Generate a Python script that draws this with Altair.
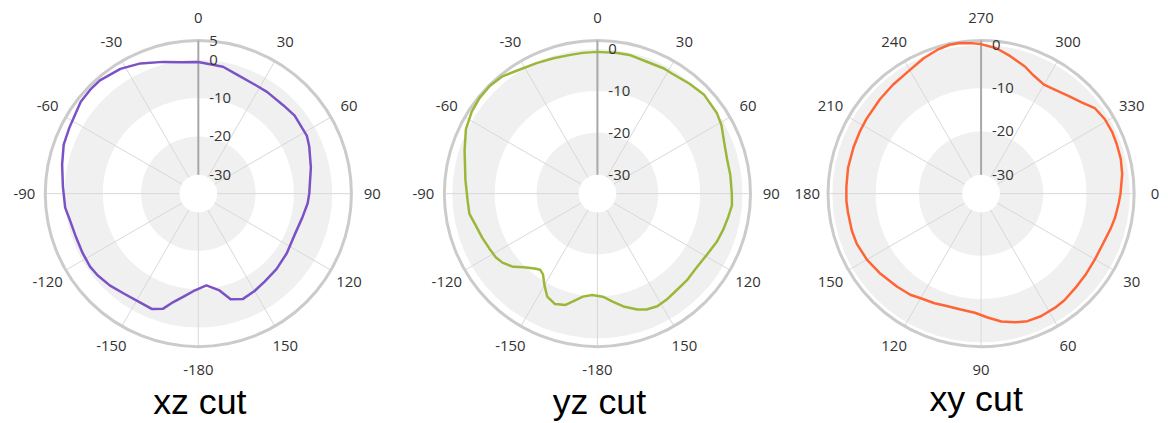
import math
import altair as alt
import pandas as pd

# ---------------- data ----------------
xz_angle = [0, 11, 18, 27, 34, 44, 51, 62, 67, 77, 90, 95, 103, 112, 124, 134, 143, 150, 157, 163,
            168, 175, -178, -173, -167, -163, -158, -152, -143, -136, -129, -124, -117, -109, -102, -96,
            -87, -78, -70, -63, -58, -52, -46, -41, -32, -24, -15, -7]
xz_gain = [-0.6, -1.2, -2.3, -2.9, -2.9, -2.95, -2.6, -2.85, -3.5, -4.8, -6.0, -6.3, -7.1, -7.6, -7.1, -6.6,
           -6.2, -5.6, -5.1, -6.1, -9.2, -10.9, -9.7, -8.2, -5.9, -3.55, -2.5, -2.7, -2.4, -1.65, -1.1,
           -0.85, -1.0, -1.05, -0.75, 0.0, 0.45, 1.4, 2.45, 2.85, 3.2, 4.0, 4.2, 4.2, 3.45, 2.25, 0.65, -0.4]

yz_angle = [0, 8, 13, 20, 28, 32, 40, 47, 56, 61, 68, 75, 82, 90, 95, 100, 106, 112, 119, 127,
            134, 141, 147, 152, 157, 161, 167, 172, 177, -177, -172, -167, -164, -159, -154, -150,
            -146, -143, -140, -135, -131, -126, -122, -117, -111, -105, -99, -93, -84, -72, -64, -57,
            -51, -45, -39, -32, -25, -18, -11, -6]
yz_gain = [-0.7, -0.65, -0.55, -0.9, -0.7, -0.8, -0.3, 0.2, -0.15, -0.7, -1.9, -2.5, -2.5, -2.45, -2.3,
           -2.8, -3.3, -3.8, -4.6, -5.0, -4.8, -4.7, -4.3, -4.1, -4.5, -5.3, -6.9, -8.5, -9.9, -10.3,
           -9.7, -8.1, -6.9, -6.3, -7.2, -9.25, -11.3, -11.8, -11.2, -9.7, -7.9, -6.5, -5.9, -5.6, -5.1,
           -4.55, -3.6, -3.5, -2.85, -1.2, 0.4, 1.25, 1.7, 1.8, 1.5, 0.4, -0.15, -0.55, -0.8, -0.75]

xy_angle = [270, 276, 282, 289, 294, 300, 305, 312, 318, 323, 329, 335, 340, 346, 352, 0, 4, 10, 15, 22,
            30, 38, 45, 52, 57, 64, 70, 75, 81, 87, 93, 100, 107, 113, 120, 125, 132, 142, 150, 158,
            164, 172, 177, 183, 191, 200, 207, 213, 223, 231, 240, 247, 253, 258, 262, 267]
xy_gain = [0.18, -0.6, -1.9, -3.3, -4.5, -5.3, -4.95, -4.05, -2.95, -1.5, -1.0, -0.9, -1.0, -1.1, -1.45,
           -2.15, -2.5, -2.9, -3.35, -3.9, -4.0, -3.8, -3.55, -3.1, -2.95, -2.85, -3.0, -3.6, -4.45, -5.7,
           -6.8, -7.2, -7.2, -6.85, -6.45, -5.85, -5.4, -4.6, -3.9, -3.4, -3.3, -3.3, -3.2, -3.2, -3.05,
           -3.0, -2.9, -2.75, -2.4, -2.0, -1.4, -0.4, 0.35, 0.8, 0.8, 0.4]

xz_ticks = [5, 0, -10, -20, -30]
yz_ticks = [0, -10, -20, -30]
xy_ticks = [0, -10, -20, -30]

xz_angle_labels = [0, 30, 60, 90, 120, 150, -180, -150, -120, -90, -60, -30]
yz_angle_labels = [0, 30, 60, 90, 120, 150, -180, -150, -120, -90, -60, -30]
xy_angle_labels = [270, 300, 330, 0, 30, 60, 90, 120, 150, 180, 210, 240]

band_lo = [-30, -10]
band_hi = [-20, 0]

titles = ["xz cut", "yz cut", "xy cut"]
colors = ["#7B52C6", "#9BB73A", "#FF6434"]

# ---------------- layout ----------------
R = 154.0          # outer circle radius (px)
HOLE = 19.0        # radius of the white hole (px)
RMIN = -30
H = 407
CY = 185.5
LABEL_FONT = "Open Sans"
GRID = "#d8d8d8"


def panel(angles, gains, ticks, angle_labels, rot, rmax, color, title, W, cx, tx, ty):
    k = (R - HOLE) / (rmax - RMIN)      # px per dB
    hole_u = HOLE / k
    xs = alt.Scale(domain=[-cx / k, (W - cx) / k], nice=False, zero=False)
    ys = alt.Scale(domain=[-(H - CY) / k, CY / k], nice=False, zero=False)
    rs = alt.Scale(type="linear", domain=[RMIN - hole_u, rmax], range=[0, R], nice=False, zero=False)
    off = -RMIN + hole_u
    X = lambda f: alt.X(f, type="quantitative", scale=xs, axis=None)
    Y = lambda f: alt.Y(f, type="quantitative", scale=ys, axis=None)

    # grey bands
    bands = alt.Chart(pd.DataFrame({"lo": band_lo, "hi": band_hi})).mark_arc(
        theta=0, theta2=2 * math.pi, color="#f0f0f0"
    ).encode(
        x=alt.XDatum(0, scale=xs, axis=None),
        y=alt.YDatum(0, scale=ys, axis=None),
        radius=alt.Radius("hi:Q", scale=rs, stack=False),
        radius2=alt.Radius2("lo:Q"),
    )

    # spokes
    sp = pd.DataFrame({"a": angle_labels})
    spokes = alt.Chart(sp).transform_calculate(
        phi=f"(datum.a + {rot}) * PI / 180",
        x0=f"{RMIN + off} * sin(datum.phi)", y0=f"{RMIN + off} * cos(datum.phi)",
        x1=f"{rmax + off} * sin(datum.phi)", y1=f"{rmax + off} * cos(datum.phi)",
    ).mark_rule(color=GRID, strokeWidth=1).encode(
        x=X("x0"), y=Y("y0"), x2="x1:Q", y2="y1:Q"
    )

    # outer circle (zero-width ring at the axis maximum)
    outer = alt.Chart(pd.DataFrame({"r": [rmax], "r2": [rmax]})).mark_arc(
        theta=0, theta2=2 * math.pi, fillOpacity=0, stroke="#cbcbcb", strokeWidth=3
    ).encode(
        x=alt.XDatum(0, scale=xs, axis=None),
        y=alt.YDatum(0, scale=ys, axis=None),
        radius=alt.Radius("r:Q", scale=rs, stack=False),
        radius2=alt.Radius2("r2:Q"),
    )

    # radial axis line (at top)
    ax = pd.DataFrame({"lo": [ticks[-1]], "hi": [rmax]})
    axis_line = alt.Chart(ax).transform_calculate(
        x0="0", y0=f"datum.lo + {off}", y1=f"datum.hi + {off}"
    ).mark_rule(color="#a8a8a8", strokeWidth=2).encode(
        x=X("x0"), y=Y("y0"), y2="y1:Q"
    )

    # radial labels
    tk = pd.DataFrame({"v": ticks})
    rlabels = alt.Chart(tk).transform_calculate(
        x0="0", y0=f"datum.v + {off}"
    ).mark_text(align="left", baseline="middle", dx=11, fontSize=15,
                font=LABEL_FONT, color="#333333").encode(
        x=X("x0"), y=Y("y0"), text="v:N"
    )

    # angle labels
    lab_ux = rmax + off + 21.0 / k
    lab_top = rmax + off + 22.5 / k
    lab_bot = rmax + off + 23.5 / k
    alabels = alt.Chart(sp).transform_calculate(
        phi=f"(datum.a + {rot}) * PI / 180",
        lx=f"{lab_ux} * sin(datum.phi)",
        ly=f"cos(datum.phi) > 0 ? {lab_top} * cos(datum.phi) : {lab_bot} * cos(datum.phi)",
    ).mark_text(align="center", baseline="middle", fontSize=15,
                font=LABEL_FONT, color="#333333").encode(
        x=X("lx"), y=Y("ly"), text="a:N"
    )

    # pattern curve (closed)
    df = pd.DataFrame({"angle": angles + [angles[0]], "gain": gains + [gains[0]]})
    df["i"] = range(len(df))
    curve = alt.Chart(df).transform_calculate(
        phi=f"(datum.angle + {rot}) * PI / 180",
        rho=f"datum.gain + {off}",
        px="datum.rho * sin(datum.phi)", py="datum.rho * cos(datum.phi)",
    ).mark_line(color=color, strokeWidth=2.5, strokeJoin="round").encode(
        x=X("px"), y=Y("py"), order="i:Q"
    )

    ttl = alt.Chart(pd.DataFrame({"t": [title]})).mark_text(
        align="center", baseline="alphabetic", fontSize=36,
        font="Liberation Sans", color="#000000"
    ).encode(x=alt.value(tx), y=alt.value(ty), text="t:N")

    return alt.layer(bands, spokes, outer, axis_line, curve, rlabels, alabels, ttl).properties(
        width=W, height=H
    )


p1 = panel(xz_angle, xz_gain, xz_ticks, xz_angle_labels, 0, 5, colors[0], titles[0],
           383, 191.5, 193, 407)
p2 = panel(yz_angle, yz_gain, yz_ticks, yz_angle_labels, 0, 2, colors[1], titles[1],
           420, 210, 212, 407)
p3 = panel(xy_angle, xy_gain, xy_ticks, xy_angle_labels, 90, 1, colors[2], titles[2],
           355, 176, 171, 404)

chart = alt.hconcat(p1, p2, p3, spacing=0, bounds="flush").properties(
    padding={"left": 0, "top": 0, "right": 0, "bottom": 0}
).configure_view(strokeWidth=0)

chart.save("out.html", embed_options={"renderer": "svg", "actions": False})
